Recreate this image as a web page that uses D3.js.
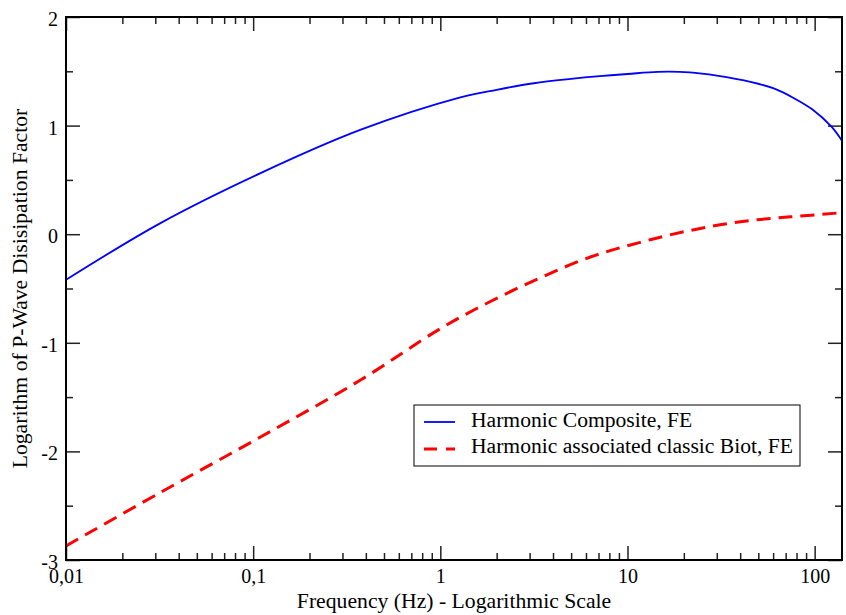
<!DOCTYPE html>
<html>
<head>
<meta charset="utf-8">
<script src="https://cdn.jsdelivr.net/npm/d3@7"></script>
<style>
  body { margin: 0; background: #fff; }
  svg, svg text { display: block; font-family: "Liberation Serif", "Times New Roman", serif; }
</style>
</head>
<body>
<div id="chart"></div>
<script>
// frequencies (Hz) and log10 of the dissipation factor
const freqComposite = [0.01, 0.0318, 0.1088, 0.373, 1.28, 2.0, 3.16, 5.0, 7.1, 10, 14.5, 21.5, 30, 46, 61, 78, 97, 123, 140];
const logComposite  = [-0.42, 0.10, 0.56, 0.96, 1.26, 1.33, 1.39, 1.43, 1.455, 1.475, 1.495, 1.49, 1.46, 1.40, 1.34, 1.25, 1.15, 0.99, 0.86];

const freqBiot = [0.01, 0.0318, 0.1088, 0.373, 1.0, 1.85, 3.43, 6.34, 11.7, 21.7, 40.2, 74.5, 132.5, 140];
const logBiot  = [-2.87, -2.38, -1.87, -1.345, -0.87, -0.62, -0.40, -0.21, -0.075, 0.035, 0.115, 0.16, 0.195, 0.20];

const xMajor = [0.01, 0.1, 1, 10, 100];
const yMajor = [-3, -2, -1, 0, 1, 2];
const yMinor = [-2.5, -1.5, -0.5, 0.5, 1.5];

const seriesNames = ["Harmonic Composite, FE", "Harmonic associated classic Biot, FE"];

function LogPlot({
  width = 846,
  height = 615,
  marginTop = 17,
  marginRight = 4,
  marginBottom = 55,
  marginLeft = 66,
  xDomain = [0.01, 140],
  yDomain = [-3, 2],
} = {}) {
  const x = d3.scaleLog(xDomain, [marginLeft, width - marginRight]);
  const y = d3.scaleLinear(yDomain, [height - marginBottom, marginTop]);
  const xMinor = x.ticks().filter(v => !xMajor.some(m => Math.abs(m - v) < 1e-9));
  const fmt = d => String(d).replace(".", ",");

  const svg = d3.create("svg")
      .attr("width", width)
      .attr("height", height)
      .attr("viewBox", [0, 0, width, height]);

  const tickStyle = g => {
    g.attr("font-family", null).attr("font-size", 20);
    g.select(".domain").remove();
    g.selectAll(".tick line").attr("stroke", "#222").attr("stroke-width", 1.5);
    g.selectAll(".tick text").attr("fill", "#000");
  };

  // bottom axis with labels
  svg.append("g")
      .attr("transform", `translate(0,${height - marginBottom})`)
      .call(d3.axisBottom(x).tickValues(xMajor).tickFormat(fmt).tickSize(-14).tickPadding(9))
      .call(tickStyle);
  svg.append("g")
      .attr("transform", `translate(0,${height - marginBottom})`)
      .call(d3.axisBottom(x).tickValues(xMinor).tickFormat("").tickSize(-7))
      .call(tickStyle);

  // top mirror
  svg.append("g")
      .attr("transform", `translate(0,${marginTop})`)
      .call(d3.axisTop(x).tickValues(xMajor).tickFormat("").tickSize(-14))
      .call(tickStyle);
  svg.append("g")
      .attr("transform", `translate(0,${marginTop})`)
      .call(d3.axisTop(x).tickValues(xMinor).tickFormat("").tickSize(-7))
      .call(tickStyle);

  // left axis with labels
  svg.append("g")
      .attr("transform", `translate(${marginLeft},0)`)
      .call(d3.axisLeft(y).tickValues(yMajor).tickSize(-14).tickPadding(8))
      .call(tickStyle)
      .call(g => g.selectAll(".tick text").attr("dy", "0.42em").text(d => d < 0 ? "-" + Math.abs(d) : d));
  svg.append("g")
      .attr("transform", `translate(${marginLeft},0)`)
      .call(d3.axisLeft(y).tickValues(yMinor).tickFormat("").tickSize(-7))
      .call(tickStyle);

  // right mirror
  svg.append("g")
      .attr("transform", `translate(${width - marginRight},0)`)
      .call(d3.axisRight(y).tickValues(yMajor).tickFormat("").tickSize(-14))
      .call(tickStyle);
  svg.append("g")
      .attr("transform", `translate(${width - marginRight},0)`)
      .call(d3.axisRight(y).tickValues(yMinor).tickFormat("").tickSize(-7))
      .call(tickStyle);

  const line = d3.line()
      .x(d => x(d[0]))
      .y(d => y(d[1]))
      .curve(d3.curveCatmullRom.alpha(0.5));

  svg.append("clipPath").attr("id", "plotclip")
    .append("rect")
      .attr("x", marginLeft).attr("y", marginTop)
      .attr("width", width - marginLeft - marginRight)
      .attr("height", height - marginTop - marginBottom);

  const plot = svg.append("g").attr("clip-path", "url(#plotclip)");

  plot.append("path")
      .datum(d3.zip(freqBiot, logBiot))
      .attr("fill", "none")
      .attr("stroke", "#ff0000")
      .attr("stroke-width", 3)
      .attr("stroke-dasharray", "14,8")
      .attr("d", line);

  plot.append("path")
      .datum(d3.zip(freqComposite, logComposite))
      .attr("fill", "none")
      .attr("stroke", "#0000ff")
      .attr("stroke-width", 1.8)
      .attr("d", line);

  // frame
  svg.append("rect")
      .attr("x", marginLeft)
      .attr("y", marginTop)
      .attr("width", width - marginLeft - marginRight)
      .attr("height", height - marginTop - marginBottom)
      .attr("fill", "none")
      .attr("stroke", "#000")
      .attr("stroke-width", 2);

  // axis titles
  svg.append("text")
      .attr("x", (marginLeft + width - marginRight) / 2)
      .attr("y", 608)
      .attr("text-anchor", "middle")
      .attr("font-size", 21.7)
      .text("Frequency (Hz) - Logarithmic Scale");

  svg.append("text")
      .attr("transform", `translate(27,${(marginTop + height - marginBottom) / 2}) rotate(-90)`)
      .attr("text-anchor", "middle")
      .attr("font-size", 21.7)
      .text("Logarithm of P-Wave Disisipation Factor");

  // legend
  const legend = svg.append("g").attr("transform", "translate(414,405)");
  legend.append("rect")
      .attr("width", 386)
      .attr("height", 61)
      .attr("fill", "#fff")
      .attr("stroke", "#000")
      .attr("stroke-width", 1);
  const styles = [
    {stroke: "#0000ff", width: 1.8, dash: null},
    {stroke: "#ff0000", width: 3, dash: "13,9"}
  ];
  seriesNames.forEach((name, i) => {
    legend.append("line")
        .attr("x1", 10).attr("x2", 41)
        .attr("y1", 17 + i * 27).attr("y2", 17 + i * 27)
        .attr("stroke", styles[i].stroke)
        .attr("stroke-width", styles[i].width)
        .attr("stroke-dasharray", styles[i].dash);
    legend.append("text")
        .attr("x", 57)
        .attr("y", 22 + i * 26)
        .attr("font-size", 21.6)
        .text(name);
  });

  return svg.node();
}

d3.select("#chart").append(() => LogPlot());
</script>
</body>
</html>
